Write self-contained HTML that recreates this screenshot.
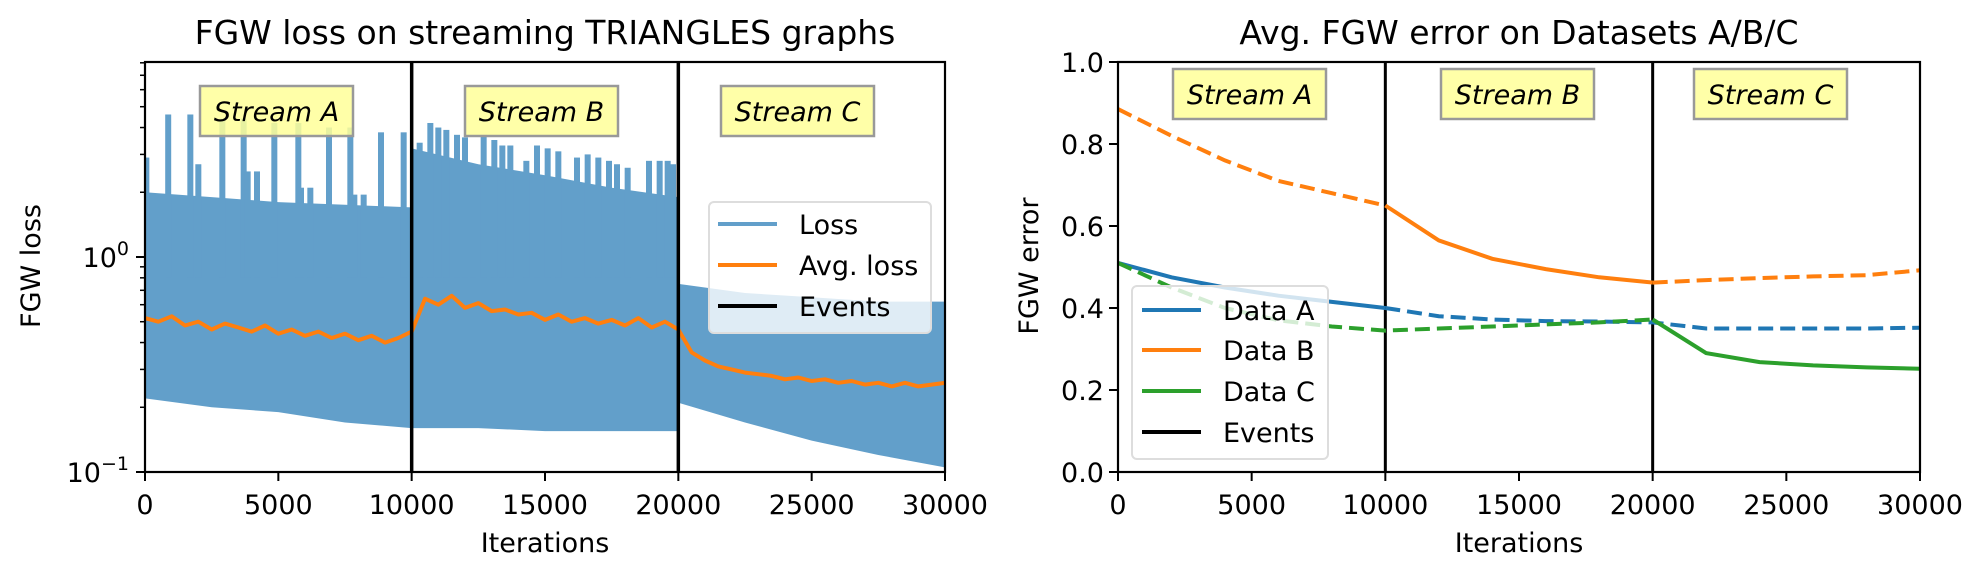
<!DOCTYPE html>
<html><head><meta charset="utf-8"><style>
html,body{margin:0;padding:0;background:#fff;}
svg{display:block;font-family:"DejaVu Sans","Liberation Sans",sans-serif;}
</style></head><body>
<svg id="chart" width="1980" height="576" viewBox="0 0 1980 576"></svg>
<script>
// ---- Left chart data ----
const envIters = [0,2500,5000,7500,9999,10001,12500,15000,17500,19999,20001,22500,25000,27500,30000];
const lossUpper = [2.0,1.9,1.8,1.75,1.7,3.2,2.7,2.4,2.1,1.9,0.75,0.68,0.65,0.62,0.62];
const lossLower = [0.22,0.20,0.19,0.17,0.16,0.16,0.16,0.155,0.155,0.155,0.21,0.17,0.14,0.12,0.105];
const spikeIters = [50,870,1700,2000,2900,3700,3850,4200,4850,5750,5850,6200,6900,7700,7850,8200,8850,9700,
  10300,10700,11000,11300,11700,12000,12300,12700,13100,13400,13700,14300,14700,15100,15500,16200,16600,17000,17400,17700,18100,18900,19300,19600,19800,
  20100,20400,22500,25000,26000];
const spikeVals = [2.9,4.6,4.6,2.7,4.4,4.4,2.5,2.5,4.2,4.2,2.1,2.1,4.0,4.0,1.95,1.95,3.8,3.8,
  3.4,4.2,4.0,3.9,3.7,3.6,2.6,3.7,3.5,3.3,3.3,2.8,3.3,3.2,3.1,2.9,3.0,2.9,2.8,2.7,2.6,2.8,2.8,2.8,2.7,
  0.8,0.78,0.7,0.68,0.66];
const avgIters = [];
for (let i = 0; i <= 60; i++) avgIters.push(i*500);
const avgLoss = [0.52,0.50,0.53,0.48,0.50,0.46,0.49,0.47,0.45,0.48,0.44,0.46,0.43,0.45,0.42,0.44,0.41,0.43,0.40,0.42,
  0.45,0.64,0.60,0.66,0.58,0.61,0.56,0.57,0.54,0.55,0.51,0.54,0.50,0.52,0.49,0.51,0.48,0.52,0.47,0.50,
  0.46,0.36,0.33,0.31,0.30,0.29,0.285,0.28,0.27,0.275,0.265,0.27,0.26,0.265,0.255,0.26,0.25,0.26,0.25,0.255,0.26];
const xTicks = [0,5000,10000,15000,20000,25000,30000];
const events = [10000,20000];
const streamLabels = ["Stream A","Stream B","Stream C"];

// ---- Right chart data ----
const errIters = [0,2000,4000,6000,8000,10000,12000,14000,16000,18000,20000,22000,24000,26000,28000,30000];
const dataA = [0.51,0.475,0.45,0.43,0.415,0.40,0.38,0.372,0.368,0.367,0.365,0.35,0.35,0.35,0.35,0.352];
const dataB = [0.885,0.82,0.76,0.71,0.68,0.65,0.565,0.52,0.495,0.475,0.462,0.468,0.473,0.477,0.48,0.492];
const dataC = [0.51,0.45,0.40,0.37,0.355,0.345,0.35,0.355,0.36,0.365,0.372,0.29,0.268,0.26,0.255,0.252];
const yTicksR = [0,0.2,0.4,0.6,0.8,1.0];

const NS = "http://www.w3.org/2000/svg";
const svg = document.getElementById('chart');
function mk(tag, attrs, parent, text) {
  const e = document.createElementNS(NS, tag);
  for (const k in attrs) e.setAttribute(k, attrs[k]);
  if (text !== undefined) e.textContent = text;
  (parent || svg).appendChild(e);
  return e;
}

const L = {x0:145, x1:945, y0:62, y1:472};
const lx = v => L.x0 + (v/30000)*(L.x1-L.x0);
const lyTop = Math.log10(8.07), lyBot = -1;
const ly = v => L.y1 - (Math.log10(v)-lyBot)/(lyTop-lyBot)*(L.y1-L.y0);
const R = {x0:1118, x1:1920, y0:62, y1:472};
const rx = v => R.x0 + (v/30000)*(R.x1-R.x0);
const ry = v => R.y1 - v*(R.y1-R.y0);

const gL = mk('g', {});


const defs = mk('defs', {}, svg);
const cp = mk('clipPath', {id:'clipL'}, defs);
mk('rect', {x:L.x0, y:L.y0, width:L.x1-L.x0, height:L.y1-L.y0}, cp);

const plotL = mk('g', {'clip-path':'url(#clipL)'}, gL);
let d = '';
envIters.forEach((it,i)=>{ d += (i?'L':'M') + lx(it).toFixed(1) + ' ' + ly(lossUpper[i]).toFixed(1) + ' '; });
for (let i = envIters.length-1; i >= 0; i--) d += 'L' + lx(envIters[i]).toFixed(1) + ' ' + ly(lossLower[i]).toFixed(1) + ' ';
const band = mk('path', {d: d + 'Z', fill:'#629fca'}, plotL);


spikeIters.forEach((it,i)=>{
  const s = mk('rect', {x:lx(it)-3, y:ly(spikeVals[i]), width:6, height:Math.max(0, ly(0.8)-ly(spikeVals[i])), fill:'#629fca'}, plotL);
  
  
});
let da = '';
avgIters.forEach((it,i)=>{ da += (i?'L':'M') + lx(it).toFixed(1) + ' ' + ly(avgLoss[i]).toFixed(1) + ' '; });
const avgLine = mk('path', {d:da, fill:'none', stroke:'#ff7f0e', 'stroke-width':4, 'stroke-linejoin':'round'}, plotL);


events.forEach(ev=>{
  const l = mk('line', {x1:lx(ev), x2:lx(ev), y1:L.y0, y2:L.y1, stroke:'#000', 'stroke-width':3.5}, gL);
  
  
});

function axesFrame(A, g) {
  const f = mk('rect', {x:A.x0, y:A.y0, width:A.x1-A.x0, height:A.y1-A.y0, fill:'none', stroke:'#000', 'stroke-width':2.2}, g);
  
  
}
axesFrame(L, gL);

function xAxis(A, sx, g) {
  xTicks.forEach(t=>{
    mk('line', {x1:sx(t), x2:sx(t), y1:A.y1, y2:A.y1+9, stroke:'#000', 'stroke-width':2}, g);
    const tl = mk('text', {x:sx(t), y:A.y1+42, 'font-size':27, 'text-anchor':'middle'}, g, String(t));
    
    
  });
  const xt = mk('text', {x:(A.x0+A.x1)/2, y:552, 'font-size':27, 'text-anchor':'middle'}, g, 'Iterations');
  
  
}
xAxis(L, lx, gL);

for (let dec = -1; dec <= 0; dec++) {
  for (let m = 1; m <= 9; m++) {
    const v = m*Math.pow(10,dec);
    if (v > 8.07) continue;
    const major = m === 1;
    mk('line', {x1:L.x0-(major?9:5), x2:L.x0, y1:ly(v), y2:ly(v), stroke:'#000', 'stroke-width':major?2:1.5}, gL);
  }
}
[[1,'0'],[0.1,'−1']].forEach(([v,e])=>{
  const t = mk('text', {x:L.x0-16, y:ly(v)+10, 'font-size':27, 'text-anchor':'end'}, gL);
  
  
  mk('tspan', {}, t, '10');
  mk('tspan', {dy:-12, 'font-size':19}, t, e);
});
const ytl = mk('text', {x:40, y:266, 'font-size':27, 'text-anchor':'middle', transform:'rotate(-90 40 266)'}, gL, 'FGW loss');


const titL = mk('text', {x:(L.x0+L.x1)/2, y:44, 'font-size':33, 'text-anchor':'middle'}, gL, 'FGW loss on streaming TRIANGLES graphs');



function streamBoxes(xs, y, g) {
  xs.forEach((x,i)=>{
    const b = mk('g', {}, g);
    
    
    mk('rect', {x:x, y:y, width:153, height:50, fill:'#ffff99', 'fill-opacity':0.85, stroke:'#999', 'stroke-width':2.5}, b);
    mk('text', {x:x+76.5, y:y+35, 'font-size':27, 'font-style':'italic', 'text-anchor':'middle'}, b, streamLabels[i]);
  });
}
streamBoxes([200,465,721], 86, gL);

function legend(x, y, w, h, items, g) {
  const lg = mk('g', {}, g);
  
  
  mk('rect', {x:x, y:y, width:w, height:h, rx:5, fill:'#fff', 'fill-opacity':0.8, stroke:'#ddd', 'stroke-width':2}, lg);
  items.forEach(it=>{
    const e = mk('g', {}, lg);
    
    
    mk('line', {x1:it.hx, x2:it.hx+59, y1:it.y, y2:it.y, stroke:it.c, 'stroke-width':4}, e);
    mk('text', {x:it.hx+81, y:it.y+10, 'font-size':27}, e, it.t);
  });
}
legend(709, 202, 222, 131, [
  {hx:718, y:224, c:'#629fca', t:'Loss'},
  {hx:718, y:265, c:'#ff7f0e', t:'Avg. loss'},
  {hx:718, y:306, c:'#000', t:'Events'}], gL);

const gR = mk('g', {});


events.forEach(ev=>{
  const l = mk('line', {x1:rx(ev), x2:rx(ev), y1:R.y0, y2:R.y1, stroke:'#000', 'stroke-width':3}, gR);
  
  
});
function seg(vals, from, to, dashed, color, name) {
  let p = '';
  errIters.forEach((it,i)=>{ if (it>=from && it<=to) p += (p?'L':'M') + rx(it).toFixed(1) + ' ' + ry(vals[i]).toFixed(1) + ' '; });
  const attrs = {d:p, fill:'none', stroke:color, 'stroke-width':4};
  if (dashed) attrs['stroke-dasharray'] = '15 7';
  const e = mk('path', attrs, gR);
  
  
}
seg(dataB, 0, 10000, true, '#ff7f0e', 'data-b-line');
seg(dataB, 10000, 20000, false, '#ff7f0e', 'data-b-line');
seg(dataB, 20000, 30000, true, '#ff7f0e', 'data-b-line');
seg(dataA, 0, 10000, false, '#1f77b4', 'data-a-line');
seg(dataA, 10000, 30000, true, '#1f77b4', 'data-a-line');
seg(dataC, 0, 20000, true, '#2ca02c', 'data-c-line');
seg(dataC, 20000, 30000, false, '#2ca02c', 'data-c-line');
axesFrame(R, gR);
xAxis(R, rx, gR);
yTicksR.forEach(t=>{
  mk('line', {x1:R.x0-9, x2:R.x0, y1:ry(t), y2:ry(t), stroke:'#000', 'stroke-width':2}, gR);
  const tl = mk('text', {x:R.x0-14, y:ry(t)+10, 'font-size':27, 'text-anchor':'end'}, gR, t.toFixed(1));
  
  
});
const ytr = mk('text', {x:1038, y:266, 'font-size':27, 'text-anchor':'middle', transform:'rotate(-90 1038 266)'}, gR, 'FGW error');


const titR = mk('text', {x:(R.x0+R.x1)/2, y:44, 'font-size':33, 'text-anchor':'middle'}, gR, 'Avg. FGW error on Datasets A/B/C');


streamBoxes([1173,1441,1694], 69, gR);
legend(1132, 286, 196, 173, [
  {hx:1142, y:310, c:'#1f77b4', t:'Data A'},
  {hx:1142, y:350, c:'#ff7f0e', t:'Data B'},
  {hx:1142, y:391, c:'#2ca02c', t:'Data C'},
  {hx:1142, y:432, c:'#000', t:'Events'}], gR);
</script>
</body></html>
